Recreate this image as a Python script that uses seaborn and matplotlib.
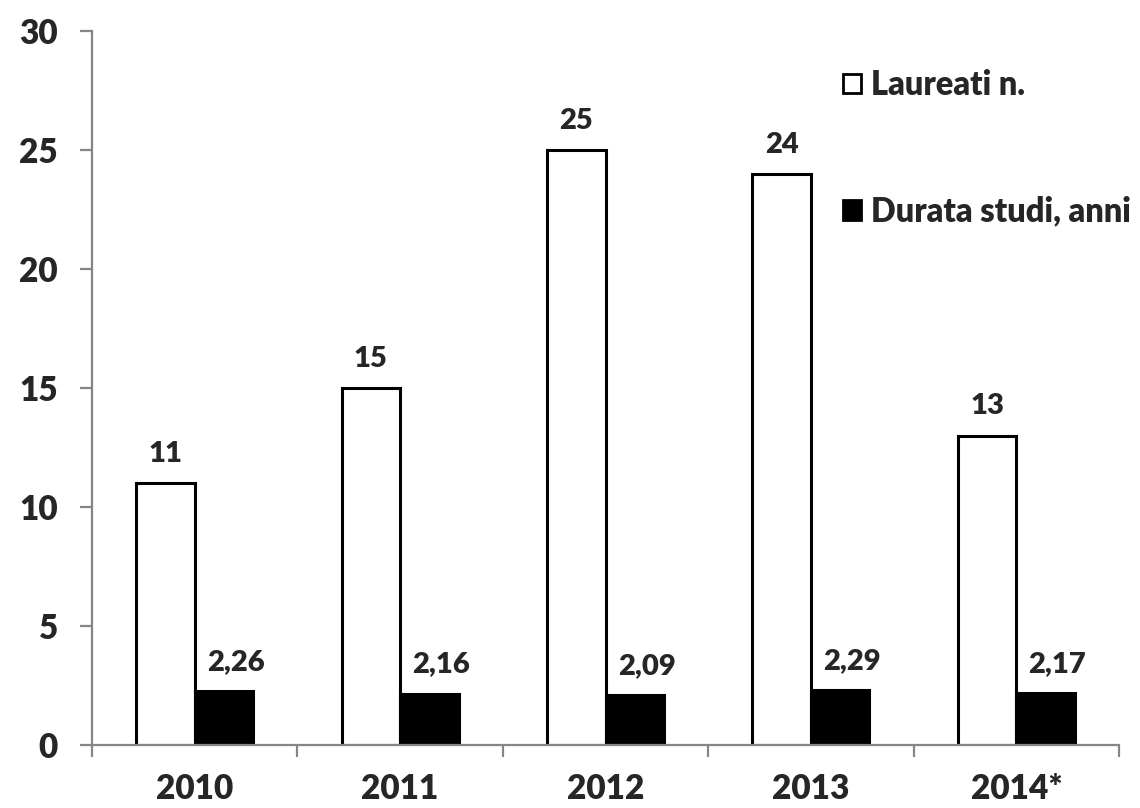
import pandas as pd
import matplotlib.pyplot as plt
import seaborn as sns
import numpy as np

sns.set_theme(style="white")
plt.rcParams["font.family"] = ["Lato", "DejaVu Sans"]
plt.rcParams["font.weight"] = "heavy"
W = "heavy"

## DATA
anni = ["2010", "2011", "2012", "2013", "2014*"]
laureati = [11, 15, 25, 24, 13]
durata = [2.26, 2.16, 2.09, 2.29, 2.17]
serie = ["Laureati n.", "Durata studi, anni"]

df = pd.DataFrame({
    "anno": anni * 2,
    "valore": laureati + durata,
    "serie": [serie[0]] * len(anni) + [serie[1]] * len(anni),
})

AXIS_GRAY = "#868686"

## PLOT
fig, ax = plt.subplots(figsize=(11.4, 8.08), dpi=100)
fig.subplots_adjust(left=0.0807, right=0.9816, top=0.9616, bottom=0.078)

sns.barplot(data=df, x="anno", y="valore", hue="serie", palette=["white", "black"],
            edgecolor="black", linewidth=2.2, width=0.57, ax=ax, legend=True)

# value labels (italian decimal comma)
for cont, vals in zip(ax.containers, [laureati, durata]):
    dx = 0 if vals is laureati else 8.5
    for bar, v in zip(cont, vals):
        txt = f"{v}" if isinstance(v, int) else f"{v:.2f}".replace(".", ",")
        ax.annotate(txt, (bar.get_x() + bar.get_width() / 2, bar.get_height()),
                    xytext=(dx, 21), textcoords="offset points",
                    ha="center", va="center", fontsize=21, fontweight=W)

ax.set_ylim(0, 30)
ax.set_yticks(np.arange(0, 31, 5))
ax.set_xlim(-0.5, len(anni) - 0.5)
ax.set_xlabel("")
ax.set_ylabel("")

sns.despine(ax=ax)
for s in ["left", "bottom"]:
    ax.spines[s].set_color(AXIS_GRAY)
    ax.spines[s].set_linewidth(1.6)

ax.tick_params(axis="y", which="major", length=8.6, width=1.6, color=AXIS_GRAY,
               pad=16, labelsize=24, left=True)
ax.set_xticks(np.arange(-0.5, len(anni), 1), minor=True)
ax.tick_params(axis="x", which="minor", length=8.6, width=1.6, color=AXIS_GRAY, bottom=True)
ax.tick_params(axis="x", which="major", length=0, pad=20, labelsize=24)
for lab in ax.get_xticklabels() + ax.get_yticklabels():
    lab.set_fontweight(W)

# legend
handles, labels = ax.get_legend_handles_labels()
ax.get_legend().remove()
leg = fig.legend(handles, labels, loc="upper left", bbox_to_anchor=(843 / 1140, 1 - 69 / 808),
                 frameon=False, fontsize=23.5, handlelength=0.55, handleheight=0.55,
                 handletextpad=0.3, labelspacing=2.9, borderpad=0, borderaxespad=0)
for t in leg.get_texts():
    t.set_fontweight(W)
for h in leg.legend_handles:
    h.set_linewidth(2)

fig.savefig("out.png", dpi=100)
